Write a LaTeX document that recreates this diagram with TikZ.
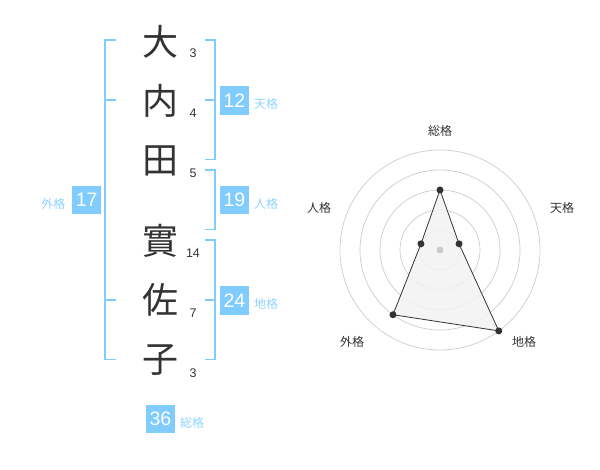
\documentclass[tikz,border=0pt]{standalone}
\usepackage{fontspec}
\usetikzlibrary{calc}
\setmainfont{Liberation Sans}
\newfontfamily\cjk{Noto Sans CJK JP}
\definecolor{boxblue}{HTML}{80CCFF}
\definecolor{lblblue}{HTML}{8FD3FF}
\definecolor{ink}{HTML}{333333}
\definecolor{ring}{HTML}{CCCCCC}
\definecolor{area}{HTML}{F2F2F2}
\tikzset{
  kanji/.style={text=ink,font=\cjk\fontsize{36}{36}\selectfont,inner sep=0pt},
  strokes/.style={text=ink,font=\fontsize{12.5}{13}\selectfont,inner sep=0pt},
  numbox/.style={fill=boxblue,text=white,minimum width=28.7pt,minimum height=28.5pt,inner sep=0pt,font=\fontsize{19.5}{20}\selectfont},
  lbl/.style={text=lblblue,font=\cjk\fontsize{12}{13}\selectfont,inner sep=0pt},
  rlbl/.style={text=ink,font=\cjk\fontsize{12}{13}\selectfont,inner sep=0pt},
  brk/.style={draw=boxblue,line width=1.8pt},
  ringline/.style={draw=ring,line width=0.7pt},
  pt/.style={circle,fill=ink,inner sep=0pt,minimum size=7pt},
}
\begin{document}
\begin{tikzpicture}[x=1pt,y=1pt]
\useasboundingbox (0,0) rectangle (600,-470);
% characters
\node[kanji] (k1) at (160,-42) {大};
\node[kanji] (k2) at (160,-101) {内};
\node[kanji] (k3) at (160,-161) {田};
\node[kanji] (k4) at (160,-241) {實};
\node[kanji] (k5) at (160,-300) {佐};
\node[kanji] (k6) at (160,-360) {子};
% stroke counts
\node[strokes] (s1) at (193,-53) {3};
\node[strokes] (s2) at (193,-113) {4};
\node[strokes] (s3) at (193,-173) {5};
\node[strokes] (s4) at (193,-253) {14};
\node[strokes] (s5) at (193,-313) {7};
\node[strokes] (s6) at (193,-373) {3};
% left bracket (gaikaku)
\draw[brk] (116,-40) -- (105,-40) -- (105,-359.5) -- (116,-359.5);
\draw[brk] (105,-100) -- (116,-100);
\draw[brk] (105,-300) -- (116,-300);
% right brackets
\draw[brk] (205,-40) -- (215,-40) -- (215,-159.5) -- (205,-159.5);
\draw[brk] (205,-100) -- (215,-100);
\draw[brk] (205,-170) -- (215,-170) -- (215,-229.5) -- (205,-229.5);
\draw[brk] (205,-240) -- (215,-240) -- (215,-359.5) -- (205,-359.5);
\draw[brk] (205,-300) -- (215,-300);
% boxes
\node[numbox] (b17) at (86.7,-200.2) {17};
\node[lbl] (l17) at (53.5,-203.5) {外格};
\node[numbox] (b12) at (234.4,-100.4) {12};
\node[lbl] (l12) at (266,-104) {天格};
\node[numbox] (b19) at (234.4,-200.2) {19};
\node[lbl] (l19) at (266,-203.5) {人格};
\node[numbox] (b24) at (234.4,-300.4) {24};
\node[lbl] (l24) at (266,-304) {地格};
\node[numbox] (b36) at (160.4,-419.2) {36};
\node[lbl] (l36) at (192,-422.5) {総格};
% radar
\coordinate (c) at (440,-250);
\foreach \r in {20,40,60,80,100} \draw[ringline] (c) circle (\r);
\coordinate (p1) at ($(c)+(90:60)$);
\coordinate (p2) at ($(c)+(18:20)$);
\coordinate (p3) at ($(c)+(-54:100)$);
\coordinate (p4) at ($(c)+(234:80)$);
\coordinate (p5) at ($(c)+(162:20)$);
\fill[area,opacity=0.85] (p1) -- (p2) -- (p3) -- (p4) -- (p5) -- cycle;
\fill[ring] (c) circle (3.5);
\draw[ink,line width=0.8pt] (p1) -- (p2) -- (p3) -- (p4) -- (p5) -- cycle;
\foreach \p in {p1,p2,p3,p4,p5} \node[pt] at (\p) {};
\node[rlbl] (r1) at (440,-131) {総格};
\node[rlbl] (r2) at (562,-208) {天格};
\node[rlbl] (r3) at (524,-342) {地格};
\node[rlbl] (r4) at (352,-342) {外格};
\node[rlbl] (r5) at (319,-208) {人格};
\end{tikzpicture}
\end{document}
